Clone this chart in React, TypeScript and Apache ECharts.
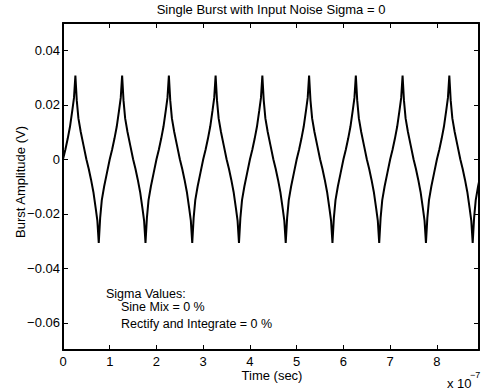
import React, { useEffect, useRef } from "react";
import * as echarts from "echarts";

// Time axis in units of 1e-7 s; amplitude in volts
const periodStarts = [0, 1, 2, 3, 4, 5, 6, 7, 8];
const shapePhase = [0, 0.05, 0.1, 0.15, 0.2, 0.235, 0.265, 0.295, 0.33, 0.38, 0.44, 0.5, 0.55, 0.6, 0.65, 0.7, 0.735, 0.765, 0.795, 0.83, 0.88, 0.94];
const shapeAmp = [0, 0.0035, 0.0075, 0.012, 0.018, 0.0225, 0.0307, 0.0215, 0.015, 0.01, 0.005, 0, -0.0035, -0.0075, -0.012, -0.018, -0.0225, -0.0307, -0.0215, -0.015, -0.01, -0.005];
const xTicks = [0, 1, 2, 3, 4, 5, 6, 7, 8];
const yTicks = [-0.06, -0.04, -0.02, 0, 0.02, 0.04];

const FONT = "'Liberation Sans', Arial, Helvetica, sans-serif";

export default function App() {
  const ref = useRef<HTMLDivElement>(null);
  useEffect(() => {
    document.body.style.margin = "0";
    const chart = echarts.init(ref.current!, null, { renderer: "svg" });
    const data: number[][] = [];
    periodStarts.forEach((p) => {
      shapePhase.forEach((ph, i) => data.push([p + ph, shapeAmp[i]]));
    });
    const fmtY = (v: number) => (v === 0 ? "0" : (v < 0 ? "\u2212" : "") + Math.abs(v).toFixed(2));
    const common = {
      axisLine: { show: true, onZero: false, lineStyle: { color: "#000", width: 2 } },
      splitLine: { show: false },
    };
    chart.setOption({
      animation: false,
      grid: { left: 63, right: 2, top: 23, bottom: 39 },
      xAxis: [
        {
          type: "value", min: 0, max: 8.9, position: "bottom", ...common,
          axisTick: { inside: true, length: 5, lineStyle: { color: "#000", width: 1 }, customValues: xTicks },
          axisLabel: { customValues: xTicks, margin: 5, color: "#000", fontSize: 13, fontFamily: FONT, formatter: (v: number) => String(v) },
        },
        {
          type: "value", min: 0, max: 8.9, position: "top", ...common,
          axisTick: { inside: true, length: 5, lineStyle: { color: "#000", width: 1 }, customValues: xTicks },
          axisLabel: { show: false },
        },
      ],
      yAxis: [
        {
          type: "value", min: -0.07, max: 0.05, position: "left", ...common,
          axisTick: { inside: true, length: 5, lineStyle: { color: "#000", width: 1 }, customValues: yTicks },
          axisLabel: { customValues: yTicks, margin: 3, color: "#000", fontSize: 13, fontFamily: FONT, formatter: fmtY },
        },
        {
          type: "value", min: -0.07, max: 0.05, position: "right", ...common,
          axisTick: { inside: true, length: 5, lineStyle: { color: "#000", width: 1 }, customValues: yTicks },
          axisLabel: { show: false },
        },
      ],
      series: [
        {
          type: "line", data, showSymbol: false, symbol: "none", clip: true,
          lineStyle: { color: "#000", width: 2 },
          xAxisIndex: 0, yAxisIndex: 0,
        },
      ],
      graphic: [
        { type: "text", x: 271, y: 9, style: { text: "Single Burst with Input Noise Sigma = 0", fill: "#000", font: `13px ${FONT}`, textAlign: "center", textVerticalAlign: "middle" } },
        { type: "text", x: 272, y: 375, style: { text: "Time (sec)", fill: "#000", font: `13px ${FONT}`, textAlign: "center", textVerticalAlign: "middle" } },
        { type: "text", x: 20, y: 182, rotation: Math.PI / 2, style: { text: "Burst Amplitude (V)", fill: "#000", font: `13px ${FONT}`, textAlign: "center", textVerticalAlign: "middle" } },
        { type: "text", x: 447, y: 383, style: { text: "x 10", fill: "#000", font: `13px ${FONT}`, textAlign: "left", textVerticalAlign: "middle" } },
        { type: "text", x: 470, y: 375, style: { text: "\u22127", fill: "#000", font: `9px ${FONT}`, textAlign: "left", textVerticalAlign: "middle" } },
        { type: "text", x: 106, y: 293.5, style: { text: "Sigma Values:", fill: "#000", font: `12.5px ${FONT}`, textAlign: "left", textVerticalAlign: "middle" } },
        { type: "text", x: 121, y: 307, style: { text: "Sine Mix = 0 %", fill: "#000", font: `12.5px ${FONT}`, textAlign: "left", textVerticalAlign: "middle" } },
        { type: "text", x: 121, y: 324, style: { text: "Rectify and Integrate = 0 %", fill: "#000", font: `12.5px ${FONT}`, textAlign: "left", textVerticalAlign: "middle" } },
      ],
    });
    return () => chart.dispose();
  }, []);
  return <div ref={ref} style={{ width: 481, height: 389 }} />;
}
